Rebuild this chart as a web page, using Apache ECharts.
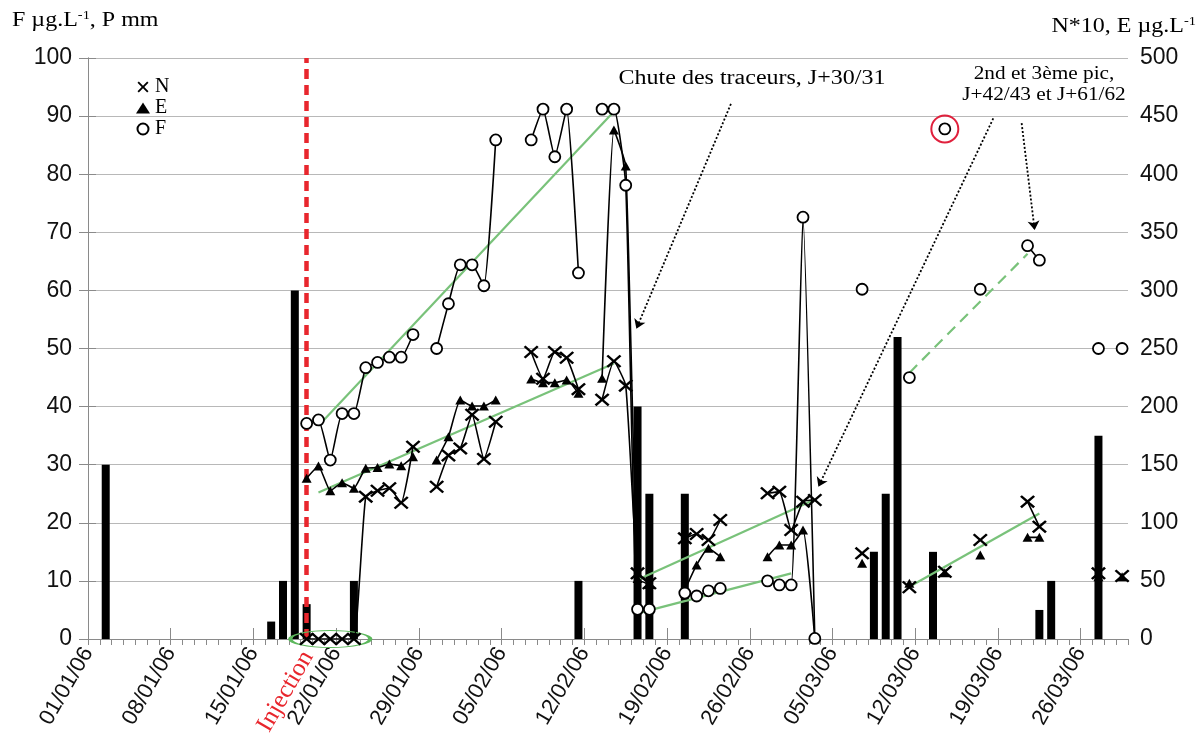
<!DOCTYPE html>
<html><head><meta charset="utf-8">
<script src="https://cdn.jsdelivr.net/npm/echarts@6/dist/echarts.min.js"></script>
<style>html,body{margin:0;padding:0;background:#fff}#chart{width:1200px;height:749px}</style>
</head><body><div id="chart"></div>
<script>
// ---------------- DATA ----------------
const axisDays = 88;            // 01/01/06 .. 29/03/06, one slot per day
const tickStepDays = 7;
const injectionDate = '19/01';

// Precipitation P (mm, left axis)
const pDates  = ['02/01','16/01','17/01','18/01','19/01','23/01','11/02','16/02','17/02','20/02','08/03','09/03','10/03','13/03','22/03','23/03','27/03'];
const pValues = [30, 3, 10, 60, 6, 10, 10, 40, 25, 25, 15, 25, 52, 15, 5, 10, 35];

// F (µg/L, left axis)
const fDates  = ['19/01','20/01','21/01','22/01','23/01','24/01','25/01','26/01','27/01','28/01',
                 '30/01','31/01','01/02','02/02','03/02','04/02',
                 '07/02','08/02','09/02','10/02','11/02',
                 '13/02','14/02','15/02','16/02','17/02',
                 '20/02','21/02','22/02','23/02',
                 '27/02','28/02','01/03','02/03','03/03',
                 '07/03','11/03','14/03','17/03','21/03','22/03','27/03','29/03'];
const fValues = [37.1, 37.7, 30.8, 38.8, 38.8, 46.7, 47.6, 48.5, 48.5, 52.4,
                 50, 57.7, 64.4, 64.4, 60.8, 85.9,
                 85.9, 91.2, 83, 91.2, 63,
                 91.2, 91.2, 78.1, 5.1, 5.1,
                 7.9, 7.4, 8.3, 8.7,
                 10, 9.3, 9.3, 72.6, 0.1,
                 60.2, 45, 87.8, 60.2, 67.7, 65.2, 50, 50];

// N*10 (right axis)
const nDates  = ['19/01','20/01','21/01','22/01','23/01','24/01','25/01','26/01','27/01','28/01',
                 '30/01','31/01','01/02','02/02','03/02','04/02',
                 '07/02','08/02','09/02','10/02','11/02',
                 '13/02','14/02','15/02','16/02','17/02',
                 '20/02','21/02','22/02','23/02',
                 '27/02','28/02','01/03','02/03','03/03',
                 '07/03','11/03','14/03','17/03','21/03','22/03','27/03','29/03'];
const nValues = [0, 0, 0, 0, 0, 122.5, 127.6, 129.7, 117.3, 165.5,
                 131, 158, 164, 193, 155, 187,
                 247, 224, 247, 242, 215,
                 206, 239, 218, 56.5, 48,
                 86.6, 90.4, 85.2, 102.4,
                 125.4, 126.8, 93.8, 118.2, 119.6,
                 73.7, 44.5, 57.9, 85.2, 118.2, 96.7, 56.5, 54.2];

// E (µg/L, right axis)
const eDates  = nDates;
const eValues = [138.3, 148.9, 127.6, 134.5, 129.7, 146.9, 147.5, 150.6, 149.1, 156.9,
                 154, 174, 205.7, 200.5, 200.5, 205.7,
                 223.8, 220.6, 220.6, 222.9, 211.4,
                 224.3, 438, 407, 52, 47,
                 42, 63.7, 78, 70.8,
                 70.8, 80.9, 80.9, 93.8, 0,
                 65.1, 47.9, 57, 72.3, 87.5, 87.5, 53.6, 53.6];

// Linear trends (start/end date, value)
const fTrendA  = [['20/01', 36.7], ['14/02', 90.8]];
const fTrendB  = [['16/02', 4.4],  ['01/03', 11.3]];
const fTrendC  = [['11/03', 45.8], ['21/03', 66.3]];   // dashed
const neTrendA = [['20/01', 126],  ['14/02', 237]];
const nTrendB  = [['16/02', 51],   ['03/03', 120]];
const nTrendC  = [['11/03', 45],   ['22/03', 108]];

// ---------------- HELPERS ----------------
const DAY = 86400000, T0 = Date.UTC(2006, 0, 1);
function dayIndex(ddmm) { const [d, m] = ddmm.split('/').map(Number); return Math.round((Date.UTC(2006, m - 1, d) - T0) / DAY); }
function slot(ddmm) { return dayIndex(ddmm) + 0.5; }
function pad(n) { return (n < 10 ? '0' : '') + n; }
function labelFor(v) { const dt = new Date(T0 + v * DAY); return pad(dt.getUTCDate()) + '/' + pad(dt.getUTCMonth() + 1) + '/06'; }
function withGaps(dates, values) {
  const out = []; let prev = null;
  dates.forEach((d, i) => {
    const k = dayIndex(d);
    if (prev !== null && k - prev > 1) out.push([prev + 1.5, '-']);
    out.push([k + 0.5, values[i]]);
    prev = k;
  });
  return out;
}
function trend(t) { return t.map(p => [slot(p[0]), p[1]]); }

const crossPath = 'path://M0,1.2L1.2,0L5,3.8L8.8,0L10,1.2L6.2,5L10,8.8L8.8,10L5,6.2L1.2,10L0,8.8L3.8,5Z';
const ellipsePath = 'path://M0,10A20,10 0 1,1 40,10A20,10 0 1,1 0,10Z';
const SANS = 'Liberation Sans', SERIF = 'Liberation Serif';
const green = '#79c27a', gray = '#8a8a8a';

// annotation arrows in (axis-day, left-value) coordinates
const arrows = [
  {from: [54.4, 92.1], to: [46.4, 53.4]},
  {from: [76.6, 89.6], to: [61.8, 26.2]},
  {from: [79.0, 88.8], to: [80.1, 70.4]}
];

const chart = echarts.init(document.getElementById('chart'));

function trendSeries(name, data, yIdx, dashed) {
  return {name, type: 'line', yAxisIndex: yIdx, data, symbol: 'none', silent: true, z: 4,
          lineStyle: {color: green, width: 2.2, type: dashed ? [11, 7] : 'solid'}};
}

const option = {
  animation: false,
  grid: {left: 88, right: 72, top: 58, bottom: 110, containLabel: false},
  legend: {
    orient: 'vertical', left: 131, top: 72, itemWidth: 14, itemHeight: 11, itemGap: 1,
    selectedMode: false,
    textStyle: {fontFamily: SERIF, fontSize: 20, color: '#000'},
    data: [{name: 'N', icon: crossPath}, {name: 'E', icon: 'triangle'}, {name: 'F', icon: 'circle'}]
  },
  xAxis: [
    {type: 'value', min: 0, max: axisDays, interval: tickStepDays, position: 'bottom',
     axisLine: {show: true, lineStyle: {color: gray, width: 1}},
     axisTick: {show: true, inside: true, length: 11, lineStyle: {color: gray, width: 1}},
     axisLabel: {rotate: 60, margin: 10, fontFamily: SANS, fontSize: 22, color: '#111', showMaxLabel: false,
                 formatter: v => (v % tickStepDays === 0 && v < axisDays) ? labelFor(v) : ''},
     splitLine: {show: false}},
    {type: 'value', min: 0, max: axisDays, interval: 1, position: 'bottom',
     axisLine: {show: true, lineStyle: {color: gray, width: 1}},
     axisTick: {show: true, length: 6, lineStyle: {color: gray, width: 1}},
     axisLabel: {show: false}, splitLine: {show: false}}
  ],
  yAxis: [
    {type: 'value', min: 0, max: 100, interval: 10, position: 'left',
     axisLine: {show: true, lineStyle: {color: gray}},
     axisTick: {show: true, length: 9, lineStyle: {color: gray}},
     axisLabel: {margin: 16, fontFamily: SANS, fontSize: 23, color: '#111'},
     splitLine: {show: true, lineStyle: {color: '#b8b8b8', width: 1}}},
    {type: 'value', min: 0, max: 500, interval: 50, position: 'right',
     axisLine: {show: true, lineStyle: {color: gray}},
     axisTick: {show: true, length: 8, lineStyle: {color: gray}},
     axisLabel: {margin: 12, fontFamily: SANS, fontSize: 23, color: '#111'},
     splitLine: {show: false}}
  ],
  series: [
    {name: 'P', type: 'bar', yAxisIndex: 0, barWidth: 8, z: 2, silent: true,
     data: pDates.map((d, i) => [slot(d), pValues[i]]), itemStyle: {color: '#000'},
     markLine: {silent: true, symbol: ['none', 'arrow'], symbolSize: 9, z: 6,
       label: {show: false}, lineStyle: {color: '#000', width: 1.8, type: [2, 2]},
       data: arrows.map(a => [{coord: a.from}, {coord: a.to}])}},
    trendSeries('trendFA', trend(fTrendA), 0, false),
    trendSeries('trendFB', trend(fTrendB), 0, false),
    trendSeries('trendFC', trend(fTrendC), 0, true),
    trendSeries('trendNEA', trend(neTrendA), 1, false),
    trendSeries('trendNB', trend(nTrendB), 1, false),
    trendSeries('trendNC', trend(nTrendC), 1, false),
    {name: 'N', type: 'line', yAxisIndex: 1, data: withGaps(nDates, nValues), smooth: 0.15,
     symbol: crossPath, symbolSize: [15, 13], z: 5,
     lineStyle: {color: '#000', width: 1.6}, itemStyle: {color: '#000'},
     markPoint: {silent: true, symbol: ellipsePath, symbolSize: [80, 17], symbolKeepAspect: false,
       label: {show: false}, itemStyle: {color: 'transparent', borderColor: '#5cb85c', borderWidth: 2},
       data: [{coord: [slot('21/01'), 0]}]}},
    {name: 'E', type: 'line', yAxisIndex: 1, data: withGaps(eDates, eValues), smooth: 0.15,
     symbol: 'triangle', symbolSize: [10, 9], z: 5,
     lineStyle: {color: '#000', width: 1.6}, itemStyle: {color: '#000'}},
    {name: 'F', type: 'line', yAxisIndex: 0, data: withGaps(fDates, fValues), smooth: 0.15,
     symbol: 'circle', symbolSize: 11, z: 6,
     lineStyle: {color: '#000', width: 1.6}, itemStyle: {color: '#fff', borderColor: '#000', borderWidth: 1.8},
     markLine: {silent: true, symbol: ['none', 'none'], label: {show: false},
       lineStyle: {color: '#e8262d', width: 4.5, type: [10, 6]},
       data: [{xAxis: slot(injectionDate)}]},
     markPoint: {silent: true, symbol: 'circle', symbolSize: 27, label: {show: false},
       itemStyle: {color: 'transparent', borderColor: '#e0203c', borderWidth: 2},
       data: [{coord: [slot('14/03'), 87.8]}]}}
  ]
};
chart.setOption(option);

// ---------------- TEXT ANNOTATIONS ----------------
const injX = chart.convertToPixel({xAxisIndex: 0}, slot(injectionDate) + 0.1);
const y0 = chart.convertToPixel({yAxisIndex: 0}, 0);
function txt(x, y, text, o) {
  return Object.assign({type: 'text', x, y, silent: true,
    style: Object.assign({text, fill: '#000', fontFamily: SERIF, fontSize: 20}, o.style || {})}, o.el || {});
}
chart.setOption({graphic: [
  txt(12, 10, '{a|F µg.L}{s|-1}{a|, P mm}', {el: {scaleX: 1.2}, style: {align: 'left', textAlign: 'left', verticalAlign: 'top', textVerticalAlign: 'top',
     rich: {a: {fontFamily: SERIF, fontSize: 20, lineHeight: 22, fill: '#000'}, s: {fontFamily: SERIF, fontSize: 12, lineHeight: 13, verticalAlign: 'top', fill: '#000'}}}}),
  txt(1196, 16, '{a|N*10, E µg.L}{s|-1}', {el: {scaleX: 1.2}, style: {align: 'right', textAlign: 'right', verticalAlign: 'top', textVerticalAlign: 'top',
     rich: {a: {fontFamily: SERIF, fontSize: 20, lineHeight: 22, fill: '#000'}, s: {fontFamily: SERIF, fontSize: 12, lineHeight: 13, verticalAlign: 'top', fill: '#000'}}}}),
  txt(752, 79, 'Chute des traceurs, J+30/31', {el: {scaleX: 1.2}, style: {align: 'center', textAlign: 'center', verticalAlign: 'middle', textVerticalAlign: 'middle'}}),
  txt(1044, 64, '2nd et 3ème pic,\nJ+42/43 et J+61/62', {el: {scaleX: 1.12}, style: {fontSize: 19, lineHeight: 21, align: 'center', textAlign: 'center', verticalAlign: 'top', textVerticalAlign: 'top'}}),
  txt(injX, y0 + 14, 'Injection', {el: {rotation: Math.PI / 3}, style: {fill: '#e8262d', fontSize: 25, align: 'right', textAlign: 'right', verticalAlign: 'middle', textVerticalAlign: 'middle'}})
]});
</script>
</body></html>
